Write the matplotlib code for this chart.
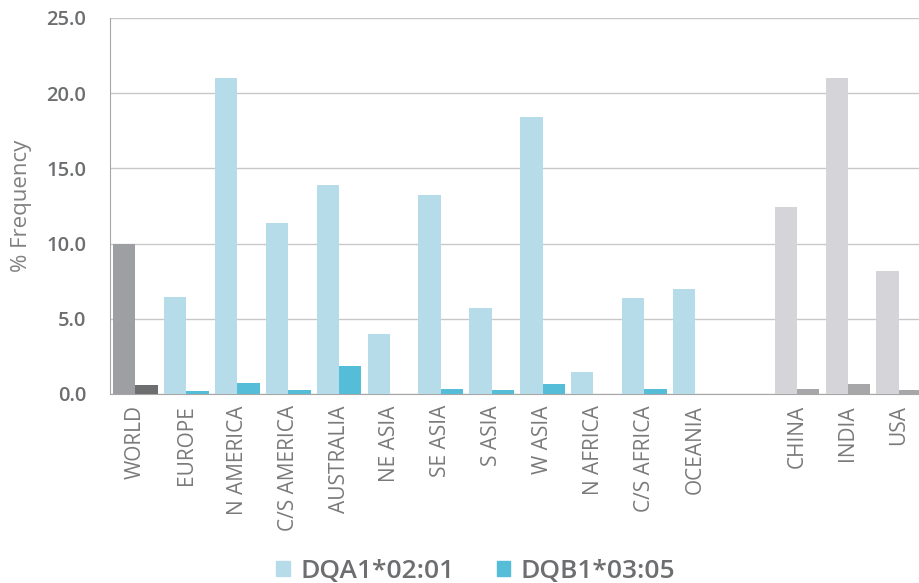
import numpy as np
import matplotlib
matplotlib.use("Agg")
import matplotlib.pyplot as plt
from matplotlib.patches import Patch

plt.rcParams['font.family'] = ['Open Sans', 'DejaVu Sans']

# data
categories = ["WORLD", "EUROPE", "N AMERICA", "C/S AMERICA", "AUSTRALIA", "NE ASIA",
              "SE ASIA", "S ASIA", "W ASIA", "N AFRICA", "C/S AFRICA", "OCEANIA",
              "", "CHINA", "INDIA", "USA"]
dqa1 = [10.0, 6.45, 21.0, 11.4, 13.9, 4.0, 13.2, 5.7, 18.4, 1.45, 6.4, 7.0,
        0.0, 12.4, 21.0, 8.2]
dqb1 = [0.6, 0.2, 0.73, 0.27, 1.85, 0.0, 0.33, 0.27, 0.65, 0.0, 0.33, 0.0,
        0.0, 0.33, 0.65, 0.27]
groups = ["world"] + ["region"] * 11 + ["blank"] + ["country"] * 3

colors_a = {"world": "#9d9fa2", "region": "#b6dcea", "country": "#d5d4d8", "blank": "none"}
colors_b = {"world": "#6d6e70", "region": "#56bdd9", "country": "#a7a7a9", "blank": "none"}

x = np.arange(len(categories))
w = 0.44

fig = plt.figure(figsize=(9.2, 5.83), dpi=100)
ax = fig.add_axes([0.1196, 0.3242, 0.885, 0.645])

ax.bar(x - w / 2, dqa1, width=w, color=[colors_a[g] for g in groups], zorder=3)
ax.bar(x + w / 2, dqb1, width=w, color=[colors_b[g] for g in groups], zorder=3)

ax.set_xlim(-0.5, len(categories) - 0.5)
ax.set_ylim(0, 25)
ticks = np.arange(0, 25.1, 5)
ax.set_yticks(ticks)
ax.set_yticklabels([f"{v:.1f}" for v in ticks], fontsize=14.5, fontweight='semibold',
                   color='#6d6e70')
ax.set_xticks(x)
ax.set_xticklabels(categories, rotation=90, fontsize=15, color='#7a7a7a')
ax.tick_params(axis='y', length=0, pad=17)
ax.tick_params(axis='x', length=0, pad=8)

ax.grid(axis='y', color='#c8c8c8', lw=1, zorder=0)
for s in ['top', 'right']:
    ax.spines[s].set_visible(False)
ax.spines['left'].set_color('#a6a6a6')
ax.spines['bottom'].set_color('#a6a6a6')

ax.set_ylabel("% Frequency", fontsize=16, color='#808080')
ax.yaxis.set_label_coords(-0.096, 0.5)

handles = [Patch(color=colors_a["region"], label="DQA1*02:01"),
           Patch(color=colors_b["region"], label="DQB1*03:05")]
fig.legend(handles=handles, loc='center', bbox_to_anchor=(0.517, 0.02), ncol=2,
           frameon=False, handlelength=0.5, handleheight=0.5, handletextpad=0.4,
           columnspacing=1.6, borderpad=0,
           prop={'size': 19, 'weight': 'semibold'}, labelcolor='#6d6e70')

fig.savefig("out.png", dpi=100)
